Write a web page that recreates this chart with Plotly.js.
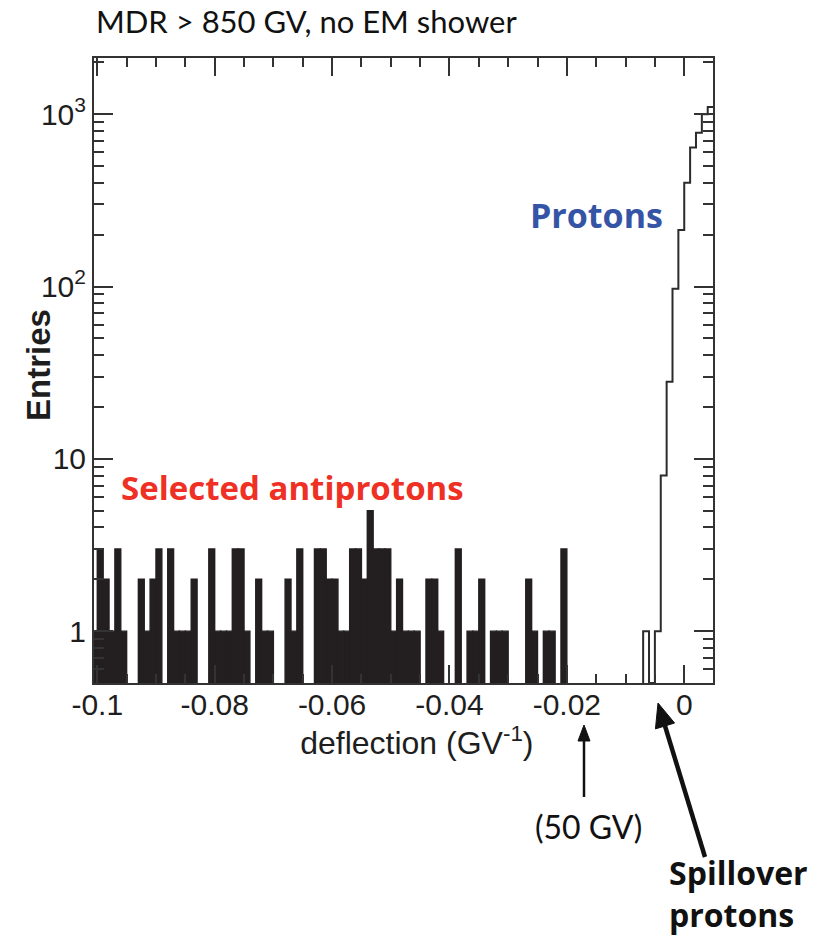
<!DOCTYPE html>
<html>
<head>
<meta charset="utf-8">
<script src="https://cdn.plot.ly/plotly-3.0.1.min.js"></script>
<style>
  html, body { margin: 0; padding: 0; background: #ffffff; }
  #chart { width: 827px; height: 938px; }
</style>
</head>
<body>
<div id="chart"></div>
<script>
// ---- Data ----
// Histogram bin width (GV^-1)
const binWidth = 0.001;

// Filled histogram: selected antiprotons; first bin starts at -0.101
const antiBinStart = -0.101;
const antiCounts = [
  1, 3, 2, 1, 3, 1, 0, 0, 2, 1, 2,
  3, 0, 3, 1, 1, 1, 2, 0, 0, 3,
  1, 1, 1, 3, 3, 1, 0, 2, 1, 1,
  0, 0, 2, 1, 3, 0, 0, 3, 3, 2,
  2, 1, 1, 3, 3, 2, 5, 3, 3, 3,
  1, 2, 1, 1, 1, 0, 2, 2, 1, 0,
  0, 3, 0, 1, 1, 2, 0, 1, 1, 1,
  0, 0, 0, 2, 1, 0, 1, 1, 0, 3
];

// Open (outline) histogram: protons; first bin starts at -0.007
const protonBinStart = -0.007;
const protonCounts = [1, 0, 1, 8, 28, 97, 213, 400, 640, 780, 1000, 1100];

// Axis ticks
const xTickVals = [-0.1, -0.08, -0.06, -0.04, -0.02, 0];
const xTickText = ['-0.1', '-0.08', '-0.06', '-0.04', '-0.02', '0'];
const yTickVals = [1, 10, 100, 1000];
const yTickText = ['1', '10', '10<sup>2</sup>', '10<sup>3</sup>'];

// Axis ranges
const xRange = [-0.10056, 0.0049];
const yMin = 0.5, yMax = 2120;

// ---- Build traces ----
const antiX = antiCounts.map((_, i) => antiBinStart + (i + 0.5) * binWidth);
const antiY = antiCounts.map(v => (v > 0 ? v : null));

// step outline for protons
const pX = [protonBinStart];
const pY = [yMin];
protonCounts.forEach((v, i) => {
  pX.push(protonBinStart + i * binWidth);
  pY.push(v > 0 ? v : yMin);
});
pX.push(protonBinStart + protonCounts.length * binWidth);
pY.push(protonCounts[protonCounts.length - 1] || yMin);

const traces = [
  {
    type: 'bar',
    x: antiX,
    y: antiY,
    width: binWidth,
    marker: { color: '#231f20', line: { color: '#231f20', width: 1.4 } },
    hoverinfo: 'x+y',
    showlegend: false
  },
  {
    type: 'scatter',
    mode: 'lines',
    x: pX,
    y: pY,
    line: { shape: 'hv', color: '#2b2b2b', width: 2 },
    hoverinfo: 'x+y',
    showlegend: false
  }
];

// minor ticks
const xMinor = [];
for (let k = -20; k <= 1; k++) xMinor.push(+(k * 0.005).toFixed(3));
const yMinor = [];
[0.1, 1, 10, 100, 1000].forEach(d => { for (let m = 2; m <= 9; m++) yMinor.push(m * d); });

// paper helpers (plot area 94..713 x, 58..683 y)
const L = 94, R = 713, T = 58, B = 683;
const px = v => (v - L) / (R - L);
const py = v => (B - v) / (B - T);
const pt = (x, y) => px(x).toFixed(5) + ',' + py(y).toFixed(5);

const axisFont = { family: 'Liberation Sans, Arial, sans-serif', size: 30, color: '#1e1e1e' };
const boldFont = 'Open Sans, Lato, sans-serif';

// arrow shapes (annotation decorations)
function arrowShapes(x0, y0, x1, y1, width, headLen, headHalf) {
  const dx = x1 - x0, dy = y1 - y0, len = Math.hypot(dx, dy);
  const ux = dx / len, uy = dy / len;
  const bx = x1 - ux * headLen, by = y1 - uy * headLen;
  const nx = -uy, ny = ux;
  return [
    { type: 'line', xref: 'paper', yref: 'paper', x0: px(x0), y0: py(y0), x1: px(bx + ux), y1: py(by + uy),
      line: { color: '#111', width: width } },
    { type: 'path', xref: 'paper', yref: 'paper',
      path: 'M' + pt(x1, y1) + 'L' + pt(bx + nx * headHalf, by + ny * headHalf) + 'L' + pt(bx - nx * headHalf, by - ny * headHalf) + 'Z',
      fillcolor: '#111', line: { color: '#111', width: 1 } }
  ];
}

const layout = {
  width: 827, height: 938,
  margin: { l: L, r: 827 - R, t: T, b: 938 - B, pad: 0 },
  paper_bgcolor: '#ffffff',
  plot_bgcolor: '#ffffff',
  bargap: 0,
  showlegend: false,
  title: {
    text: 'MDR &gt; 850 GV, no EM shower',
    font: { family: 'Lato, sans-serif', size: 31, color: '#111' },
    x: 96 / 827, xanchor: 'left', xref: 'container',
    y: 1 - 22 / 938, yanchor: 'middle', yref: 'container'
  },
  xaxis: {
    range: xRange,
    tickmode: 'array', tickvals: xTickVals, ticktext: xTickText,
    ticks: 'inside', ticklen: 18, tickwidth: 2, tickcolor: '#333',
    minor: { tickmode: 'array', tickvals: xMinor, ticks: 'inside', ticklen: 9, tickwidth: 2, tickcolor: '#333' },
    showline: true, linecolor: '#333', linewidth: 2, mirror: 'allticks',
    showgrid: false, zeroline: false,
    tickfont: axisFont,
    ticklabelstandoff: -6,
    title: { text: '&nbsp;&nbsp;&nbsp;deflection (GV<sup>-1</sup>)', font: { family: axisFont.family, size: 32, color: '#1e1e1e' }, standoff: 8 },
    automargin: false
  },
  yaxis: {
    type: 'log',
    range: [Math.log10(yMin), Math.log10(yMax)],
    tickmode: 'array', tickvals: yTickVals, ticktext: yTickText,
    ticks: 'inside', ticklen: 19, tickwidth: 2, tickcolor: '#333',
    minor: { tickmode: 'array', tickvals: yMinor, ticks: 'inside', ticklen: 10, tickwidth: 2, tickcolor: '#333' },
    showline: true, linecolor: '#333', linewidth: 2, mirror: 'allticks',
    showgrid: false, zeroline: false,
    tickfont: axisFont,
    automargin: false
  },
  shapes: [].concat(
    arrowShapes(584, 797, 584, 725, 2.5, 16, 6),
    arrowShapes(705, 857, 658, 703, 4.5, 24, 10)
  ),
  annotations: [
    { text: '<b>Entries</b>', xref: 'paper', yref: 'paper', x: px(38), y: py(365),
      xanchor: 'center', yanchor: 'middle', textangle: -90, showarrow: false,
      font: { family: 'Liberation Sans, Arial, sans-serif', size: 33, color: '#1e1e1e' } },
    { text: '<b>Protons</b>', xref: 'paper', yref: 'paper', x: px(596), y: py(215),
      xanchor: 'center', yanchor: 'middle', showarrow: false,
      font: { family: boldFont, size: 34, weight: 800, color: '#3554a5' } },
    { text: '<b>Selected antiprotons</b>', xref: 'paper', yref: 'paper', x: px(292), y: py(487),
      xanchor: 'center', yanchor: 'middle', showarrow: false,
      font: { family: boldFont, size: 33, weight: 800, color: '#ee3124' } },
    { text: '(50 GV)', xref: 'paper', yref: 'paper', x: px(588), y: py(826),
      xanchor: 'center', yanchor: 'middle', showarrow: false,
      font: { family: 'Lato, sans-serif', size: 32, color: '#111' } },
    { text: '<b>Spillover</b><br><b>protons</b>', xref: 'paper', yref: 'paper', x: px(667), y: py(893),
      xanchor: 'left', yanchor: 'middle', align: 'left', showarrow: false,
      font: { family: boldFont, size: 32, weight: 800, color: '#111' } }
  ]
};

Plotly.newPlot('chart', traces, layout, { staticPlot: true, displayModeBar: false });
</script>
</body>
</html>
